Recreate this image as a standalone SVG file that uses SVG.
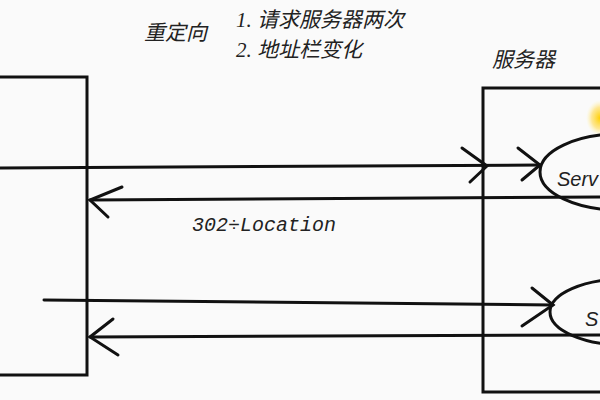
<svg xmlns="http://www.w3.org/2000/svg" width="600" height="400" viewBox="0 0 600 400">
<defs>
<style>
.box{fill:none;stroke:#111;stroke-width:3}
.ln{fill:none;stroke:#111;stroke-width:3;stroke-linecap:round}
.cjk{font-family:"Liberation Serif","Noto Sans CJK SC",serif;font-size:21px;font-style:italic;fill:#222}
.lbl{font-family:"Liberation Mono",monospace;font-size:20px;font-style:italic;fill:#222}
.srv{font-family:"Liberation Sans",sans-serif;font-size:20px;font-style:italic;fill:#222}
</style>
<radialGradient id="glow" cx="0.5" cy="0.5" r="0.5">
<stop offset="0" stop-color="#ffd000"/>
<stop offset="0.6" stop-color="#ffe27a" stop-opacity="0.8"/>
<stop offset="1" stop-color="#fff6c0" stop-opacity="0"/>
</radialGradient>
</defs>
<rect width="600" height="400" fill="#fafafa"/>
<g id="titles">
<text class="cjk" x="144" y="40">重定向</text>
<text class="cjk" x="236" y="27">1. 请求服务器两次</text>
<text class="cjk" x="236" y="57">2. 地址栏变化</text>
<text class="cjk" x="492" y="67">服务器</text>
</g>
<g id="client">
<polyline class="box" points="0,77 87,77 87,375 0,375"/>
</g>
<g id="server">
<polyline class="box" points="600,88 483,88 483,392 600,392"/>
<ellipse cx="600" cy="118" rx="14" ry="18" fill="url(#glow)"/>
</g>
<g id="servlet1">
<ellipse cx="620" cy="172" rx="80" ry="38" fill="#fafafa" stroke="#111" stroke-width="3"/>
<text class="srv" x="557" y="186">Serv</text>
</g>
<g id="servlet2">
<ellipse cx="625" cy="312" rx="75" ry="33" fill="#fafafa" stroke="#111" stroke-width="3"/>
<text class="srv" x="585" y="326">S</text>
</g>
<g id="connectors">
<path class="ln" d="M0,168 L540,165"/>
<path class="ln" d="M462,148 L487,166 L470,182"/>
<path class="ln" d="M518,148 L540,165 L522,180"/>
<path class="ln" d="M600,197 L90,200"/>
<path class="ln" d="M122,187 L90,200 L108,217"/>
<text class="lbl" x="192" y="231">302÷Location</text>
<path class="ln" d="M44,300 L553,305"/>
<path class="ln" d="M532,288 L553,305 L522,326"/>
<path class="ln" d="M600,335 L90,337"/>
<path class="ln" d="M113,319 L90,337 L118,355"/>
</g>
</svg>
